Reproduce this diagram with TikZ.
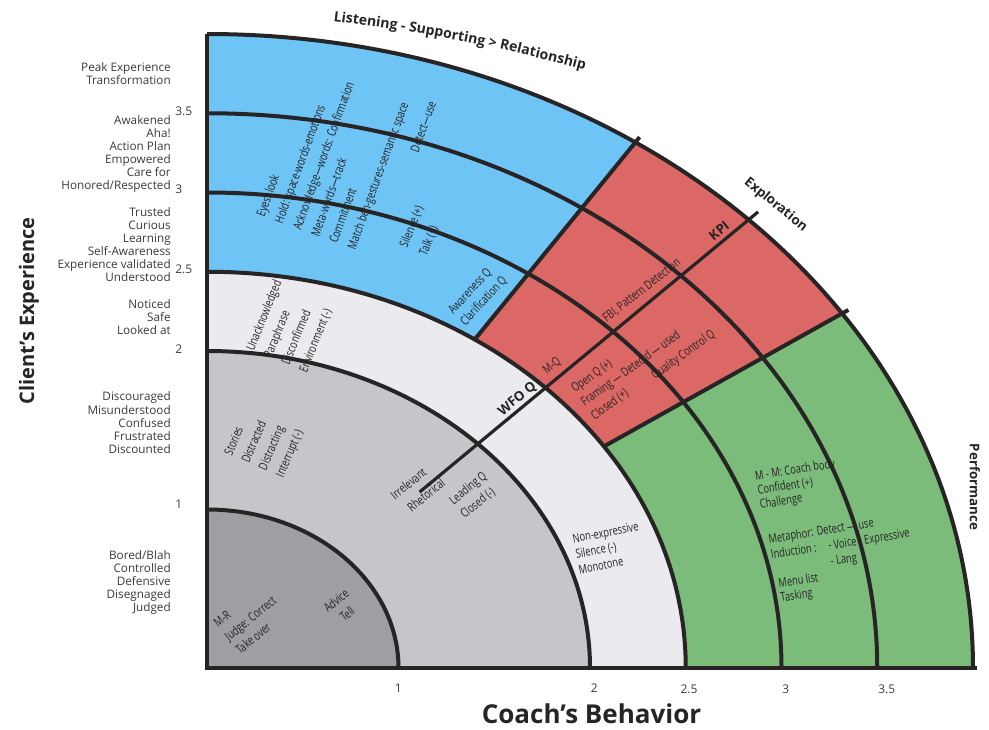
\documentclass[tikz,border=0pt]{standalone}
\usepackage{fontspec}
\setmainfont{Open Sans}
\newfontfamily\condfont[FakeStretch=0.75]{Open Sans}
\usetikzlibrary{decorations.text}

\definecolor{bandBlue}{RGB}{110,196,245}
\definecolor{bandRed}{RGB}{219,104,101}
\definecolor{bandGreen}{RGB}{123,188,122}
\definecolor{coreGray}{RGB}{158,158,163}
\definecolor{midGray}{RGB}{198,198,202}
\definecolor{paleGray}{RGB}{235,235,239}
\definecolor{ink}{RGB}{38,36,37}

\begin{document}
\begin{tikzpicture}[x=0.75pt,y=0.75pt,yscale=-1,xscale=1,
  quarter/.style={shift={(207,668)},yscale=-1,x=143.625pt,y=118.875pt},
  ring/.style={draw=ink,line width=3pt},
  note/.style={font=\condfont\fontsize{9.3}{#1}\selectfont,text=ink,inner sep=0pt,align=left},
  note/.default=14.5,
  side/.style={font=\fontsize{8.8}{9.85}\selectfont,text=ink!90,inner sep=0pt,align=right,anchor=north east},
  tick/.style={font=\fontsize{9}{10}\selectfont,text=ink!90,inner sep=0pt},
  zone/.style={font=\bfseries\fontsize{10}{12}\selectfont,text=ink,inner sep=0pt},
  heading/.style={font=\bfseries\fontsize{#1}{#1}\selectfont,text=ink,inner sep=0pt}]
\useasboundingbox (0,0) rectangle (989,729);

%Bands of the quarter disc
\begin{scope}[quarter]
\fill[coreGray] (0,0) -- (1,0) arc[start angle=0,end angle=90,radius=1] -- cycle;
\fill[midGray] (1,0) -- (2,0) arc[start angle=0,end angle=90,radius=2] -- (0,1) arc[start angle=90,end angle=0,radius=1] -- cycle;
\fill[paleGray] (2,0) -- (2.5,0) arc[start angle=0,end angle=90,radius=2.5] -- (0,2) arc[start angle=90,end angle=0,radius=2] -- cycle;
\fill[bandGreen] (2.5,0) -- (4,0) arc[start angle=0,end angle=34,radius=4] -- (34:2.5) arc[start angle=34,end angle=0,radius=2.5] -- cycle;
\fill[bandRed] (34:2.5) -- (34:4) arc[start angle=34,end angle=56,radius=4] -- (56:2.5) arc[start angle=56,end angle=34,radius=2.5] -- cycle;
\fill[bandBlue] (56:2.5) -- (56:4) arc[start angle=56,end angle=90,radius=4] -- (0,2.5) arc[start angle=90,end angle=56,radius=2.5] -- cycle;
%Title along the rim
\path[decorate,decoration={text along path,text align=left,
  text={|\bfseries\fontsize{10.5}{12}\selectfont\color{ink}|Listening - Supporting > Relationship}}]
  (0.66,4.082) to[bend left=4] (2.12,3.725);
\end{scope}

% Text Node
\draw (171,62) node (peakLbl) [side] {Peak Experience\\Transformation};
% Text Node
\draw (171,115) node (awakeLbl) [side] {Awakened\\Aha!\\Action Plan\\Empowered\\Care for\\Honored/Respected};
% Text Node
\draw (171,207) node (trustLbl) [side] {Trusted\\Curious\\Learning\\Self-Awareness\\Experience validated\\Understood};
% Text Node
\draw (171,299.3) node (noticeLbl) [side] {Noticed\\Safe\\Looked at};
% Text Node
\draw (171,391.7) node (discLbl) [side] {Discouraged\\Misunderstood\\Confused\\Frustrated\\Discounted};
% Text Node
\draw (171,550) node (boredLbl) [side] {Bored/Blah\\Controlled\\Defensive\\Disegnaged\\Judged};

% Text Node
\draw (175,111) node (yTick35) [tick,anchor=west] {3.5};
\draw (175,189) node (yTick3) [tick,anchor=west] {3};
\draw (175,269) node (yTick25) [tick,anchor=west] {2.5};
\draw (175,349) node (yTick2) [tick,anchor=west] {2};
\draw (175,504) node (yTick1) [tick,anchor=west] {1};
% Text Node
\draw (398.3,688.5) node (xTick1) [tick] {1};
\draw (594.3,688.5) node (xTick2) [tick] {2};
\draw (689,689) node (xTick25) [tick] {2.5};
\draw (785.7,689) node (xTick3) [tick] {3};
\draw (886.7,689) node (xTick35) [tick] {3.5};

% Text Node
\draw (29,311) node (clientTitle) [heading=15,rotate=90] {Client’s Experience};
% Text Node
\draw (591.5,714) node (coachTitle) [heading=19.5] {Coach’s Behavior};

% Text Node
\draw (255.3,214.4) node (lookNote) [note=14.5,anchor=north west,rotate=70] {Eyes: look\\Hold: space-words-emotions\\Acknowledge—words: Confirmation\\Meta-words—track\\Commitment\\Match beh-gestures-semantic space};
% Text Node
\draw (418.3,153.3) node (detectNote) [note,anchor=base west,rotate=70] {Detect—use};
% Text Node
\draw (398.1,244.8) node (silenceNote) [note=15.8,anchor=north west,rotate=68] {Silence (+)\\Talk (+)};
% Text Node
\draw (446.4,308.6) node (awareNote) [note=12.5,anchor=north west,rotate=47] {Awareness Q\\Clarification Q};
% Text Node
\draw (244.7,348.2) node (unackNote) [note=14.3,anchor=north west,rotate=68] {Unacknowledged\\Paraphrase\\Disconfirmed\\Environment (-)};
% Text Node
\draw (223.1,453) node (storyNote) [note=14,anchor=north west,rotate=67] {Stories\\Distracted\\Distracting\\Interrupt (-)};
% Text Node
\draw (388.9,492.8) node (rhetNote) [note=15,anchor=north west,rotate=39] {Irrelevant\\\hspace{4pt}Rhetorical};
% Text Node
\draw (447.3,497.7) node (leadNote) [note=13.2,anchor=north west,rotate=39] {Leading Q\\Closed (-)};
% Text Node
\draw (212.3,621) node (judgeNote) [note=13,anchor=north west,rotate=39] {M-R\\Judge: Correct\\Take over};
% Text Node
\draw (341.5,607) node (adviceNote) [note=13,align=center,rotate=39] {Advice\\Tell};
% Text Node
\draw (571.5,534) node (flatNote) [note=11.9,anchor=north west,rotate=11] {Non-expressive\\Silence (-)\\Monotone};
% Text Node
\draw (547,375) node (mqNote) [note,anchor=base west,rotate=40] {M-Q};
% Text Node
\draw (606.7,322.7) node (fbiNote) [note,anchor=base west,rotate=38] {FBI, Pattern Detection};
% Text Node
\draw (569.4,385.6) node (openNote) [note=12.6,anchor=north west,rotate=36] {Open Q (+)\\Framing — Detectd — used\\Closed (+)};
% Text Node
\draw (655,380) node (qualityNote) [note,anchor=base west,rotate=36] {Quality Control Q};
% Text Node
\draw (754.2,470.6) node (bodyNote) [note=10.9,anchor=north west,rotate=9] {M - M: Coach body\\Confident (+)\\Challenge};
% Text Node
\draw (767.5,533.9) node (metaNote) [note=11.8,anchor=north west,rotate=9] {Metaphor: Detect — use\\Induction :\hspace{9pt}- Voice\hspace{6pt}Expressive\\\phantom{Induction :\hspace{9pt}}- Lang};
% Text Node
\draw (777.6,577.9) node (menuNote) [note=10.8,anchor=north west,rotate=8] {Menu list\\Tasking};

%Rings, dividers and axes
\begin{scope}[quarter]
\foreach \r in {1,2,2.5,3,3.5,4}
  \draw[ring] (\r,0) arc[start angle=0,end angle=90,radius=\r];
\draw[ring] (34:2.5) -- (34:4.04);
\draw[ring] (56:2.5) -- (56:4.04);
\draw[draw=ink,line width=2.4pt] (45:1.57) -- (45:4.07);
\draw[ring,line width=3.5pt] (0,4) -- (0,0) -- (4.02,0);
\end{scope}

% Text Node
\draw (517.5,399) node (wfoLbl) [zone,rotate=39.5] {WFO Q};
% Text Node
\draw (719,231) node (kpiLbl) [zone,rotate=39.5] {KPI};
% Text Node
\draw (775.7,205) node (exploreLbl) [zone,rotate=-39] {Exploration};
% Text Node
\draw (975,487) node (perfLbl) [zone,rotate=-90] {Performance};

\end{tikzpicture}
\end{document}
